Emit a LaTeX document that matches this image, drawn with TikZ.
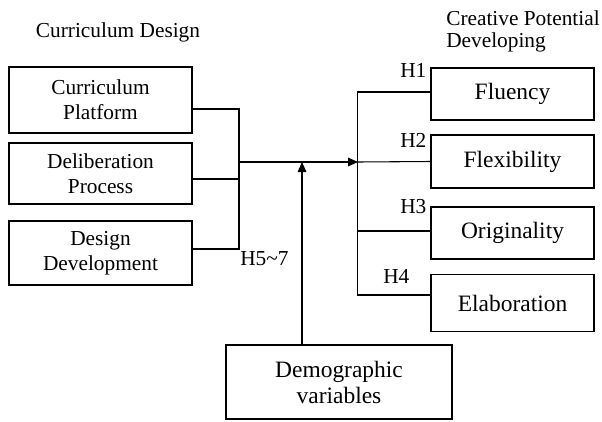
\documentclass[tikz,border=0pt]{standalone}
\usepackage{fontspec}
\setmainfont{Liberation Serif}
\usepackage{tikz}
\usetikzlibrary{arrows.meta,positioning,calc}
\tikzset{
  cbox/.style={draw=black,line width=0.8pt,inner sep=0pt,align=center,
               font=\fontsize{16}{18.75}\selectfont},
  lbox/.style={cbox,minimum width=183*0.75pt},
  rbox/.style={cbox,minimum width=163*0.75pt,font=\fontsize{17.6}{19.5}\selectfont},
  link/.style={line width=0.8pt,black},
  flow/.style={link,-{Triangle[length=7.5pt,width=6.5pt]}},
  hlab/.style={inner sep=0pt,font=\fontsize{16}{18.75}\selectfont},
}

\begin{document}
\begin{tikzpicture}[x=0.75pt,y=-0.75pt]
  \useasboundingbox (0,0) rectangle (602,421);
  % left column: curriculum design
  \node[hlab,anchor=base] (ttlL) at (118,37) {Curriculum Design};
  \node[lbox,minimum height=66*0.75pt] (plat) at (100.5,100) {Curriculum\\Platform};
  \node[lbox,minimum height=61*0.75pt] (delib) at (100.5,173.5) {Deliberation\\Process};
  \node[lbox,minimum height=64*0.75pt] (devel) at (100.5,253) {Design\\Development};
  % right column: creative potential
  \node[hlab,anchor=base west,align=left,
        font=\fontsize{16}{16.5}\selectfont] (ttlR) at (446,47) {Creative Potential\\Developing};
  \node[rbox,minimum height=52*0.75pt] (flu) at (512.5,94) {Fluency};
  \node[rbox,minimum height=53*0.75pt] (flex) at (512.5,161.5) {Flexibility};
  \node[rbox,minimum height=52*0.75pt] (orig) at (512.5,233) {Originality};
  \node[rbox,minimum height=57*0.75pt] (elab) at (512.5,303) {Elaboration};
  % moderator
  \node[rbox,minimum width=226*0.75pt,minimum height=74*0.75pt] (demo) at (339,382) {Demographic\\variables};
  % junctions
  \coordinate (jL) at (239,162);
  \coordinate (jM) at (302,162);
  \coordinate (jR) at (358,162);
  % bracket on the left
  \draw[link] ($(plat.east)+(0,9)$) -| (jL);
  \draw[link] ($(delib.east)+(0,5.5)$) -| (jL);
  \draw[link] ($(devel.east)+(0,-4)$) -| (jL);
  \draw[flow] (jL) -- (jR);
  \draw[flow] (jM |- demo.north) -- (jM);
  % bracket on the right
  \draw[link] ($(flu.west)+(0,-2)$) -| ($(elab.west)+(-73,-8)$) -- ($(elab.west)+(0,-8)$);
  \draw[link] (jR) -- (flex.west);
  \draw[link] ($(orig.west)+(0,-2)$) -- ($(orig.west)+(-73,-2)$);
  % hypothesis labels
  \node[hlab,anchor=base west] (h1) at (400,77) {H1};
  \node[hlab,anchor=base west] (h2) at (400,147) {H2};
  \node[hlab,anchor=base west] (h3) at (400,213) {H3};
  \node[hlab,anchor=base west] (h4) at (383,283) {H4};
  \node[hlab,anchor=base west] (h57) at (240,265) {H5\textasciitilde 7};
\end{tikzpicture}
\end{document}
